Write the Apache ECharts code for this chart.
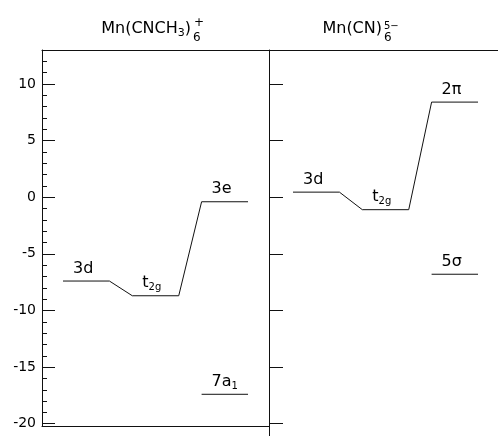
<!DOCTYPE html>
<html><head><meta charset="utf-8">
<script src="https://cdn.jsdelivr.net/npm/echarts@6/dist/echarts.min.js"></script>
<style>html,body{margin:0;padding:0;background:#fff}#c{width:498px;height:436px}</style>
</head><body><div id="c"></div>
<script>
// ---- data ----
const leftNames = ['3d', 't2g', '3e', '7a1'];
const leftEnergies = [-7.4, -8.7, -0.4, -17.4];
const leftColumns = [0, 1, 2, 2];
const leftChain = [0, 1, 2];

const rightNames = ['3d', 't2g', '2π', '5σ'];
const rightEnergies = [0.45, -1.1, 8.4, -6.8];
const rightColumns = [0, 1, 2, 2];
const rightChain = [0, 1, 2];

const majorTicks = [-20, -15, -10, -5, 0, 5, 10];
const minorTicks = [-20, -19, -18, -17, -16, -15, -14, -13, -12, -11, -10, -9, -8, -7, -6, -5, -4, -3, -2, -1, 0, 1, 2, 3, 4, 5, 6, 7, 8, 9, 10, 11, 12];

const labelRich = { 't2g': 't{s|2g}', '7a1': '7a{s|1}' };

// ---- layout ----
const FONT = 'DejaVu Sans';
const INK = '#111111';
const LEVEL_W = 0.67;
const PX_PER_COL = 69.3;
const G0 = { left: 42, top: 50, width: 227, height: 376 };
const G1 = { left: 269, top: 50, width: 229, height: 386 };
const Y_MAX = 13;
const PX_PER_UNIT = 376 / 33.2;
const Y0_MIN = Y_MAX - G0.height / PX_PER_UNIT;
const Y1_MIN = Y_MAX - G1.height / PX_PER_UNIT;
const X0_MIN = -21 / PX_PER_COL, X0_MAX = X0_MIN + G0.width / PX_PER_COL;
const X1_MIN = -24 / PX_PER_COL, X1_MAX = X1_MIN + G1.width / PX_PER_COL;

function panelSeries(names, energies, cols, chain, xi, yi) {
  const out = [];
  const lineStyle = { color: INK, width: 1 };
  const chainData = [];
  chain.forEach(i => {
    chainData.push([cols[i], energies[i]], [cols[i] + LEVEL_W, energies[i]]);
  });
  out.push({ type: 'line', xAxisIndex: xi, yAxisIndex: yi, data: chainData,
    symbol: 'none', lineStyle, silent: true, animation: false });
  names.forEach((n, i) => {
    if (chain.indexOf(i) >= 0) return;
    out.push({ type: 'line', xAxisIndex: xi, yAxisIndex: yi,
      data: [[cols[i], energies[i]], [cols[i] + LEVEL_W, energies[i]]],
      symbol: 'none', lineStyle, silent: true, animation: false });
  });
  out.push({ type: 'scatter', xAxisIndex: xi, yAxisIndex: yi, symbolSize: 0.01,
    itemStyle: { color: INK, opacity: 1 }, silent: true, animation: false,
    data: names.map((n, i) => ({ name: n, value: [cols[i], energies[i]] })),
    label: { show: true, position: 'top', align: 'left', distance: 3, offset: [10, 0],
      formatter: p => labelRich[p.name] || p.name,
      fontFamily: FONT, fontSize: 16, color: '#000', opacity: 1, textBorderWidth: 0, lineHeight: 19,
      rich: { s: { fontFamily: FONT, fontSize: 10, lineHeight: 11, verticalAlign: 'bottom', color: '#000' } } } });
  return out;
}

const axisLineStyle = { color: INK, width: 1 };

const option = {
  backgroundColor: '#fff',
  animation: false,
  grid: [
    { left: G0.left, top: G0.top, width: G0.width, height: G0.height },
    { left: G1.left, top: G1.top, width: G1.width, height: G1.height }
  ],
  xAxis: [
    { type: 'value', gridIndex: 0, position: 'top', min: X0_MIN, max: X0_MAX,
      axisLine: { show: true, onZero: false, lineStyle: axisLineStyle },
      axisTick: { show: false }, axisLabel: { show: false }, splitLine: { show: false } },
    { type: 'value', gridIndex: 0, position: 'bottom', min: X0_MIN, max: X0_MAX,
      axisLine: { show: true, onZero: false, lineStyle: axisLineStyle },
      axisTick: { show: false }, axisLabel: { show: false }, splitLine: { show: false } },
    { type: 'value', gridIndex: 1, position: 'top', min: X1_MIN, max: X1_MAX,
      axisLine: { show: true, onZero: false, lineStyle: axisLineStyle },
      axisTick: { show: false }, axisLabel: { show: false }, splitLine: { show: false } }
  ],
  yAxis: [
    { type: 'value', gridIndex: 0, position: 'left', min: Y0_MIN, max: Y_MAX,
      axisLine: { show: true, onZero: false, lineStyle: axisLineStyle },
      axisTick: { show: true, inside: true, length: 13, customValues: majorTicks, lineStyle: axisLineStyle },
      axisLabel: { show: true, customValues: majorTicks, margin: 6, fontFamily: FONT, fontSize: 14, color: '#000',
        formatter: v => (v < 0 ? '-' + (-v) : '' + v) },
      splitLine: { show: false } },
    { type: 'value', gridIndex: 0, position: 'left', min: Y0_MIN, max: Y_MAX,
      axisLine: { show: false, onZero: false },
      axisTick: { show: true, inside: true, length: 5, customValues: minorTicks, lineStyle: axisLineStyle },
      axisLabel: { show: false }, splitLine: { show: false } },
    { type: 'value', gridIndex: 1, position: 'left', min: Y1_MIN, max: Y_MAX,
      axisLine: { show: true, onZero: false, lineStyle: axisLineStyle },
      axisTick: { show: true, inside: true, length: 14, customValues: majorTicks, lineStyle: axisLineStyle },
      axisLabel: { show: false }, splitLine: { show: false } }
  ],
  graphic: [
    { type: 'text', x: 191, y: 29, style: { text: 'Mn(CNCH{s|3})', align: 'right', verticalAlign: 'middle',
        font: '16px "DejaVu Sans"', fill: '#000', lineHeight: 19,
        rich: { s: { fontFamily: FONT, fontSize: 11, lineHeight: 10, verticalAlign: 'bottom', fill: '#000' } } } },
    { type: 'text', x: 193, y: 38, style: { text: '6', align: 'left', verticalAlign: 'middle',
        font: '12px "DejaVu Sans"', fill: '#000' } },
    { type: 'text', x: 194, y: 23, style: { text: '+', align: 'left', verticalAlign: 'middle',
        font: '12px "DejaVu Sans"', fill: '#000' } },
    { type: 'text', x: 382, y: 29, style: { text: 'Mn(CN)', align: 'right', verticalAlign: 'middle',
        font: '16px "DejaVu Sans"', fill: '#000' } },
    { type: 'text', x: 384, y: 38, style: { text: '6', align: 'left', verticalAlign: 'middle',
        font: '12px "DejaVu Sans"', fill: '#000' } },
    { type: 'text', x: 384, y: 26, style: { text: '5−', align: 'left', verticalAlign: 'middle',
        font: '10px "DejaVu Sans"', fill: '#000' } }
  ],
  series: [].concat(
    panelSeries(leftNames, leftEnergies, leftColumns, leftChain, 0, 0),
    panelSeries(rightNames, rightEnergies, rightColumns, rightChain, 2, 2)
  )
};

const chart = echarts.init(document.getElementById('c'), null, { renderer: 'canvas' });
chart.setOption(option);
</script>
</body></html>
